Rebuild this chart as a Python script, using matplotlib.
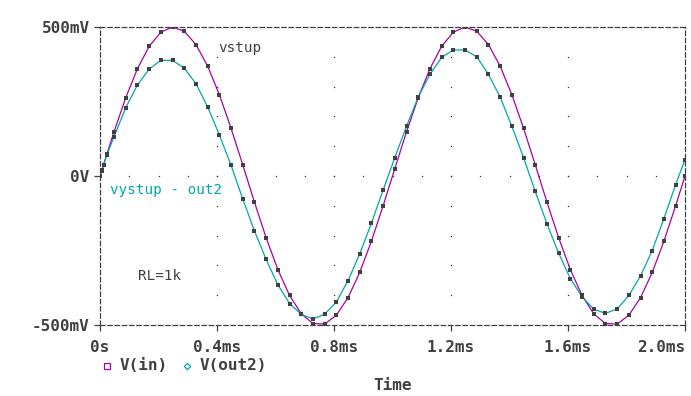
import matplotlib
matplotlib.use('Agg')
import matplotlib.pyplot as plt
from matplotlib.lines import Line2D
import numpy as np

# simulation time points (ms) and node voltages (V)
t_ms = [0.0, 0.006, 0.012, 0.024,
        0.048, 0.088, 0.128, 0.168, 0.208, 0.248, 0.288, 0.328, 0.368, 0.408,
        0.448, 0.488, 0.528, 0.568, 0.608, 0.648, 0.688, 0.728, 0.768, 0.808,
        0.848, 0.888, 0.928, 0.968, 1.008, 1.048, 1.088, 1.128, 1.168, 1.208,
        1.248, 1.288, 1.328, 1.368, 1.408, 1.448, 1.488, 1.528, 1.568, 1.608,
        1.648, 1.688, 1.728, 1.768, 1.808, 1.848, 1.888, 1.928, 1.968, 2.0]

v_in = [0.0, 0.0188, 0.0377, 0.0751,
        0.1485, 0.2626, 0.3601, 0.4350, 0.4827, 0.5000, 0.4858, 0.4411, 0.3687, 0.2732,
        0.1605, 0.0377, -0.0875, -0.2072, -0.3138, -0.4008, -0.4625, -0.4952, -0.4968, -0.4672,
        -0.4082, -0.3235, -0.2185, -0.0998, 0.0251, 0.1485, 0.2626, 0.3601, 0.4350, 0.4827,
        0.5000, 0.4858, 0.4411, 0.3687, 0.2732, 0.1605, 0.0377, -0.0875, -0.2072, -0.3138,
        -0.4008, -0.4625, -0.4952, -0.4968, -0.4672, -0.4082, -0.3235, -0.2185, -0.0998, 0.0]

v_out2 = [0.0, 0.018, 0.036, 0.072,
          0.132, 0.229, 0.305, 0.359, 0.388, 0.388, 0.362, 0.310, 0.232, 0.138,
          0.036, -0.077, -0.184, -0.280, -0.365, -0.428, -0.464, -0.480, -0.464, -0.423,
          -0.351, -0.261, -0.158, -0.047, 0.062, 0.167, 0.265, 0.341, 0.398, 0.423,
          0.423, 0.400, 0.341, 0.265, 0.167, 0.062, -0.052, -0.160, -0.259, -0.344,
          -0.405, -0.447, -0.461, -0.446, -0.401, -0.335, -0.250, -0.143, -0.029, 0.055]

xticks = [0.0, 0.4, 0.8, 1.2, 1.6, 2.0]
xlabels = ['0s', '0.4ms', '0.8ms', '1.2ms', '1.6ms', '2.0ms']
yticks = [-0.5, 0.0, 0.5]
ylabels = ['-500mV', '0V', '500mV']

MAG = '#a800a8'
CYA = '#00a8a8'
GRAY = '#404040'
W, H = 691, 396

fig = plt.figure(figsize=(W / 100, H / 100), dpi=100)
ax = fig.add_axes([100 / W, 1 - 325 / H, 585 / W, 298 / H])

# dotted grid: vertical lines at major ticks, horizontal line at 0V
gx, gy = [], []
for x in xticks[1:-1]:
    for y in np.arange(-0.4, 0.41, 0.1):
        gx.append(x); gy.append(y)
for x in np.arange(0.1, 1.95, 0.1):
    gx.append(x); gy.append(0.0)
ax.plot(gx, gy, ls='none', marker='s', ms=0.9, mew=0, color='#303010', zorder=1)

ax.plot(t_ms, v_in, color=MAG, lw=0.9, zorder=3)
ax.plot(t_ms, v_out2, color=CYA, lw=0.9, zorder=3)
ax.plot(t_ms, v_in, ls='none', marker='s', ms=2.3, mew=0, color=GRAY, zorder=4)
ax.plot(t_ms, v_out2, ls='none', marker='s', ms=2.3, mew=0, color=GRAY, zorder=4)

ax.set_xlim(0, 2.0)
ax.set_ylim(-0.5, 0.5)

for s in ax.spines.values():
    s.set_linestyle((0, (3.6, 2.2)))
    s.set_color(GRAY)
    s.set_linewidth(0.9)

tfont = dict(family='DejaVu Sans Mono', weight='bold', size=11.5)
ax.set_xticks(xticks)
ax.set_xticklabels(xlabels, fontdict=tfont, color=GRAY)
ax.get_xticklabels()[-1].set_ha('right')
ax.set_yticks(yticks)
ax.set_yticklabels(ylabels, fontdict=tfont, color=GRAY)
ax.tick_params(axis='x', direction='out', length=4.5, width=0.9, color=GRAY, pad=6)
ax.tick_params(axis='y', direction='out', length=4, width=0.9, color=GRAY, pad=3.5)

afont = dict(family='DejaVu Sans Mono', size=10.3)
ax.text(0.405, 0.43, 'vstup', color=GRAY, va='center', **afont)
ax.text(0.035, -0.048, 'vystup - out2', color=CYA, va='center', **afont)
ax.text(0.13, -0.337, 'RL=1k', color=GRAY, va='center', **afont)

# legend row under the axis
ly = 1 - 366 / H
fig.add_artist(Line2D([106.7 / W], [ly], transform=fig.transFigure, ls='none',
                      marker='s', ms=4, mfc='none', mec=MAG, mew=0.9))
fig.text(120 / W, ly, 'V(in)', color=GRAY, va='center', ha='left', **tfont)
fig.add_artist(Line2D([186.7 / W], [ly], transform=fig.transFigure, ls='none',
                      marker='D', ms=3.2, mfc='none', mec=CYA, mew=0.9))
fig.text(199.5 / W, ly, 'V(out2)', color=GRAY, va='center', ha='left', **tfont)

fig.text(392.5 / W, 1 - 386 / H, 'Time', color=GRAY, va='center', ha='center', **tfont)

fig.savefig('out.png', dpi=100)
